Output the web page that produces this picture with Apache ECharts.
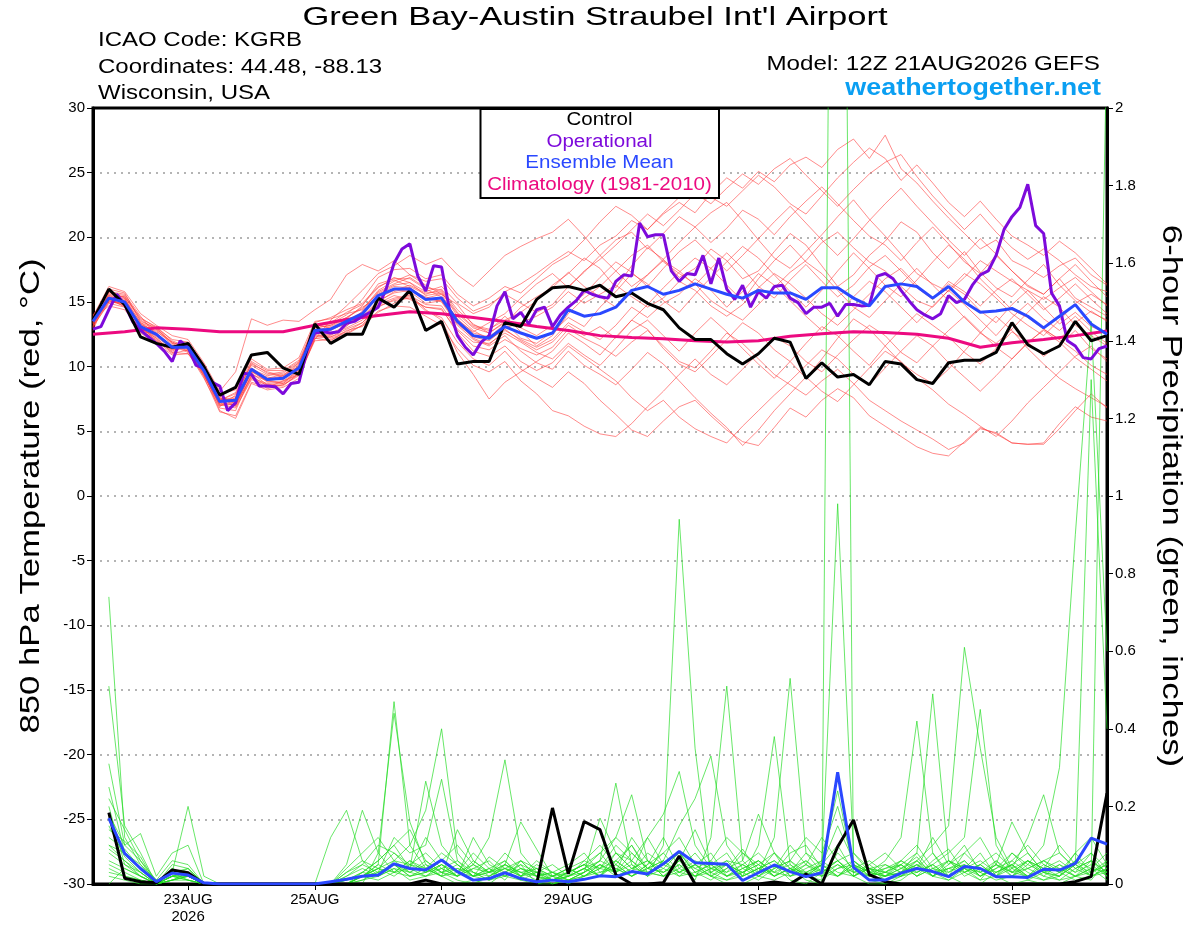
<!DOCTYPE html>
<html>
<head>
<meta charset="utf-8">
<title>GEFS KGRB 850 hPa Temperature</title>
<script src="https://cdn.jsdelivr.net/npm/echarts/dist/echarts.min.js"></script>
<style>
html, body { margin: 0; padding: 0; background: #fff; }
#main { width: 1200px; height: 927px; }
</style>
</head>
<body>
<div id="main"></div>
<script>
// x axis: hours after 12Z 21AUG2026, 6-hourly steps (0..384)
const tickIndex = [6, 14, 22, 30, 42, 50, 58];
const tickText = ['23AUG\n2026', '25AUG', '27AUG', '29AUG', '1SEP', '3SEP', '5SEP'];

// 850 hPa temperature, 6-hourly (65 values)
const control = [13.6, 16.0, 14.8, 12.3, 11.8, 11.5, 11.8, 10.0, 7.8, 8.4,
  10.9, 11.1, 9.9, 9.4, 13.3, 11.8, 12.5, 12.5, 15.3, 14.6,
  15.9, 12.8, 13.5, 10.2, 10.4, 10.4, 13.4, 13.1, 15.2, 16.1,
  16.2, 15.9, 16.3, 15.4, 15.7, 14.9, 14.4, 13.0, 12.1, 12.1,
  11.0, 10.2, 11.0, 12.2, 11.9, 9.1, 10.3, 9.2, 9.4, 8.6,
  10.4, 10.2, 9.0, 8.7, 10.3, 10.5, 10.5, 11.1, 13.4, 11.7,
  11.0, 11.6, 13.5, 12.0, 12.4];

const ensembleMean = [13.5, 15.3, 15.0, 13.1, 12.5, 11.5, 11.5, 9.7, 7.3, 7.4,
  9.8, 9.0, 9.1, 9.9, 12.8, 12.9, 13.5, 14.1, 15.5, 16.0,
  16.0, 15.2, 15.3, 13.5, 12.4, 12.2, 13.1, 12.6, 12.2, 12.6,
  14.4, 13.9, 14.1, 14.6, 15.9, 16.2, 15.6, 15.9, 16.4, 16.0,
  15.6, 15.3, 15.9, 15.7, 15.7, 15.2, 16.1, 16.1, 15.3, 14.7,
  16.2, 16.4, 16.2, 15.3, 16.2, 15.0, 14.2, 14.3, 14.5, 13.9,
  13.0, 13.9, 14.8, 13.3, 12.5];

// operational run, 3-hourly (129 values)
const operational = [12.9, 13.1, 14.4, 15.6, 14.8, 13.5, 12.8, 12.3, 11.8, 11.2,
  10.4, 12.0, 11.5, 10.1, 9.9, 8.8, 8.5, 6.6, 7.2, 9.5,
  9.4, 8.5, 8.5, 8.45, 7.9, 8.7, 8.8, 11.2, 12.6, 12.7,
  12.6, 12.7, 13.35, 13.5, 13.9, 14.2, 14.6, 16.0, 18.0, 19.1,
  19.5, 17.0, 15.85, 17.8, 17.7, 14.4, 12.4, 11.5, 10.9, 11.9,
  12.4, 14.7, 15.8, 13.7, 14.2, 13.3, 14.4, 14.6, 13.1, 14.0,
  14.6, 15.1, 15.9, 15.6, 15.4, 15.3, 16.6, 17.1, 17.0, 21.1,
  20.05, 20.2, 20.2, 17.4, 16.6, 17.2, 17.1, 18.6, 16.4, 18.4,
  16.0, 15.2, 16.3, 14.6, 15.8, 15.3, 16.2, 16.3, 15.3, 14.95,
  14.1, 14.6, 14.6, 14.9, 13.9, 14.8, 14.8, 14.7, 14.75, 17.0,
  17.2, 16.8, 15.9, 15.1, 14.4, 14.0, 13.7, 14.1, 15.5, 14.95,
  15.2, 16.3, 17.1, 17.4, 18.6, 20.6, 21.6, 22.3, 24.1, 20.9,
  20.3, 15.7, 14.7, 12.0, 11.6, 10.7, 10.6, 11.4, 11.6];

// climatology 1981-2010, 12-hourly (33 values)
const climatology = [12.5, 12.7, 13.0, 12.9, 12.7, 12.7, 12.7, 13.2, 13.65, 13.95,
  14.25, 14.1, 13.8, 13.5, 13.1, 12.8, 12.4, 12.25, 12.15, 12.0,
  11.9, 12.0, 12.35, 12.55, 12.7, 12.65, 12.5, 12.2, 11.5, 11.85,
  12.1, 12.4, 12.75];

// ensemble members, 6-hourly temperature
const members = [
  [13.2, 15.6, 15.4, 13.6, 12.9, 11.8, 11.2, 9.4, 6.9, 7.8, 10.2, 9.6, 9.3, 10.3, 13.1, 13.4, 14.2, 14.8, 16.1, 16.9, 16.5, 15.8, 16.2, 14.9, 14.1, 14.6, 15.8, 16.4, 17.2, 18.1, 18.9, 18.2, 19.4, 20.1, 21.3, 20.6, 21.8, 22.7, 21.9, 23.4, 24.6, 23.8, 25.1, 24.3, 25.6, 26.2, 25.4, 26.8, 27.6, 26.1, 27.9, 25.3, 24.2, 22.8, 21.5, 20.3, 19.1, 19.8, 18.2, 17.6, 16.9, 17.8, 18.4, 17.1, 16.3],
  [13.8, 15.1, 14.7, 12.8, 12.1, 11.1, 11.7, 9.9, 7.6, 6.9, 9.1, 8.7, 8.8, 9.6, 12.4, 12.3, 12.9, 13.4, 14.6, 15.2, 15.4, 14.3, 13.8, 11.9, 10.6, 10.1, 11.2, 9.8, 9.1, 8.4, 9.6, 8.7, 7.4, 6.3, 5.1, 4.6, 5.8, 6.9, 7.4, 6.2, 5.1, 4.2, 3.9, 5.3, 6.8, 6.1, 7.4, 8.3, 7.6, 6.2, 5.4, 4.6, 3.8, 3.3, 3.1, 4.2, 5.3, 4.8, 4.1, 4.0, 4.0, 5.2, 6.6, 7.9, 6.8],
  [13.9, 16.2, 15.8, 14.1, 13.2, 12.4, 12.1, 10.3, 8.1, 9.6, 13.7, 13.2, 13.6, 13.5, 14.4, 15.2, 17.1, 17.9, 17.4, 18.2, 17.1, 16.3, 15.6, 14.8, 13.2, 12.9, 13.6, 14.2, 15.1, 16.3, 17.2, 18.4, 17.6, 16.1, 17.8, 19.2, 18.3, 16.9, 17.6, 19.1, 18.2, 16.8, 17.4, 18.9, 20.3, 19.4, 17.8, 16.2, 17.1, 18.6, 19.7, 21.2, 20.4, 18.8, 17.6, 18.9, 17.3, 16.1, 15.4, 16.7, 17.9, 16.3, 15.1, 14.2, 13.6],
  [13.1, 14.9, 14.6, 13.3, 12.7, 11.9, 11.4, 9.2, 6.5, 6.2, 8.8, 8.4, 8.9, 9.4, 12.1, 13.6, 14.7, 15.9, 17.2, 17.8, 18.6, 17.9, 18.4, 17.1, 16.2, 17.4, 18.6, 19.3, 19.9, 20.4, 21.4, 20.1, 18.6, 17.4, 16.2, 17.1, 18.3, 19.6, 20.8, 21.9, 22.7, 21.3, 19.8, 18.4, 17.6, 18.9, 20.2, 21.6, 22.9, 21.4, 20.1, 18.7, 17.2, 16.4, 15.8, 16.9, 18.2, 17.4, 16.6, 15.9, 15.2, 16.1, 16.9, 15.8, 14.7],
  [13.4, 15.0, 14.9, 12.6, 11.8, 10.9, 11.0, 9.6, 7.8, 7.1, 9.2, 8.3, 8.6, 9.3, 12.2, 12.0, 12.8, 13.1, 14.2, 14.9, 15.6, 14.4, 13.6, 11.1, 9.4, 7.5, 8.8, 9.6, 10.4, 11.2, 12.6, 11.8, 10.9, 12.3, 13.6, 12.9, 11.4, 10.2, 9.6, 10.8, 12.1, 13.4, 12.6, 11.3, 10.4, 9.1, 10.6, 12.2, 13.7, 12.9, 11.6, 10.3, 9.4, 8.7, 9.8, 11.2, 12.6, 13.9, 12.8, 11.4, 10.2, 9.1, 8.3, 7.6, 6.9],
  [13.6, 15.4, 15.2, 13.4, 12.6, 11.3, 11.9, 10.2, 7.2, 7.0, 9.6, 9.2, 9.0, 10.1, 12.9, 12.6, 13.1, 14.3, 15.8, 16.4, 16.9, 16.1, 15.9, 14.2, 13.1, 12.8, 13.9, 12.7, 11.6, 12.4, 14.1, 15.3, 16.2, 17.4, 18.6, 19.4, 18.1, 17.2, 16.4, 15.1, 14.3, 13.6, 14.8, 16.1, 17.3, 18.2, 19.6, 20.4, 19.2, 18.1, 17.4, 16.2, 15.1, 14.6, 15.9, 17.2, 16.4, 15.3, 14.1, 13.2, 12.4, 13.6, 14.9, 15.6, 14.8],
  [13.0, 15.8, 15.6, 13.9, 12.4, 11.6, 11.1, 9.1, 6.8, 6.6, 9.4, 8.9, 8.7, 9.8, 13.0, 13.2, 13.8, 14.6, 15.3, 15.9, 16.3, 15.7, 15.8, 13.9, 12.8, 12.1, 12.9, 12.0, 11.3, 11.9, 13.2, 12.4, 13.1, 12.2, 13.6, 14.8, 16.1, 17.3, 18.4, 17.6, 16.3, 15.1, 16.8, 18.2, 19.4, 18.1, 17.2, 15.9, 14.6, 13.8, 15.1, 16.4, 17.6, 16.3, 15.1, 13.8, 12.6, 11.8, 12.9, 14.2, 15.4, 14.6, 13.2, 12.4, 11.6],
  [13.3, 15.2, 14.8, 13.0, 12.3, 11.4, 11.6, 9.8, 7.4, 7.9, 10.1, 9.4, 9.6, 10.4, 12.6, 12.4, 13.2, 13.9, 15.1, 15.7, 15.9, 15.4, 15.0, 13.2, 12.1, 11.6, 12.4, 11.2, 10.3, 9.8, 11.2, 10.1, 9.4, 8.6, 9.8, 11.1, 10.2, 8.9, 7.6, 6.4, 5.3, 3.9, 5.1, 6.6, 7.9, 9.2, 8.1, 7.3, 8.6, 9.9, 11.2, 10.4, 9.1, 8.2, 7.1, 6.3, 5.4, 4.6, 5.8, 7.2, 8.4, 9.6, 10.8, 11.6, 10.4],
  [14.0, 15.5, 15.1, 13.2, 12.8, 11.7, 11.3, 9.5, 7.0, 7.3, 9.9, 9.1, 9.4, 10.0, 13.3, 13.0, 13.6, 14.2, 15.6, 16.2, 16.1, 15.3, 15.6, 13.6, 12.7, 13.4, 14.1, 15.3, 16.4, 17.2, 16.1, 17.4, 18.3, 19.4, 20.6, 21.8, 20.9, 22.1, 23.4, 22.6, 23.8, 24.9, 24.1, 25.3, 26.1, 24.8, 23.6, 22.4, 23.7, 24.9, 25.8, 26.4, 24.7, 23.2, 21.9, 20.6, 21.8, 20.4, 19.2, 18.3, 19.1, 18.2, 17.1, 16.2, 15.8],
  [13.5, 15.3, 15.3, 13.0, 12.2, 11.2, 11.8, 9.9, 7.5, 7.5, 9.7, 8.8, 8.9, 9.7, 12.7, 12.8, 13.4, 14.0, 15.4, 16.0, 15.8, 14.9, 15.1, 13.3, 12.3, 12.0, 13.0, 13.4, 13.9, 14.6, 15.8, 14.9, 15.6, 16.3, 15.4, 14.6, 15.3, 16.6, 15.9, 14.7, 13.9, 14.8, 16.1, 17.2, 16.4, 15.3, 14.1, 13.2, 14.4, 15.6, 16.8, 17.6, 16.3, 15.2, 16.4, 15.6, 14.3, 13.4, 14.8, 15.9, 14.6, 13.3, 14.2, 13.1, 12.6],
  [12.8, 15.7, 15.5, 13.7, 13.1, 12.0, 11.5, 9.3, 7.1, 7.6, 10.3, 9.5, 9.2, 10.2, 13.4, 13.8, 14.4, 14.9, 16.2, 16.7, 16.2, 15.6, 16.0, 14.4, 13.3, 12.6, 13.4, 12.2, 11.8, 12.7, 13.8, 13.1, 14.6, 15.8, 17.2, 16.4, 15.1, 14.2, 15.6, 16.9, 18.1, 19.3, 18.4, 17.1, 15.8, 14.6, 15.9, 17.4, 18.8, 17.6, 16.3, 15.4, 16.7, 18.1, 19.4, 18.3, 16.8, 15.6, 14.4, 13.8, 12.9, 12.1, 13.4, 14.3, 13.5],
  [13.7, 14.7, 14.4, 12.9, 12.4, 11.6, 11.2, 9.6, 7.7, 7.2, 9.5, 8.6, 8.5, 9.5, 12.3, 12.5, 13.0, 13.6, 14.9, 15.5, 15.2, 14.6, 14.4, 12.8, 11.6, 11.3, 12.1, 11.4, 10.9, 11.5, 12.9, 12.2, 11.6, 10.8, 11.9, 12.8, 11.6, 10.4, 9.9, 11.2, 12.6, 11.8, 10.6, 9.4, 8.6, 7.8, 8.9, 9.8, 8.7, 7.4, 6.6, 5.8, 5.1, 4.4, 3.6, 4.1, 5.2, 4.9, 4.1, 4.0, 4.1, 5.6, 6.9, 6.1, 5.8],
  [13.4, 16.0, 15.7, 13.5, 13.0, 12.1, 11.9, 10.1, 7.9, 8.2, 10.6, 9.8, 9.9, 10.7, 13.5, 13.7, 14.1, 14.4, 15.9, 16.6, 17.1, 16.6, 16.8, 15.3, 14.3, 14.8, 15.6, 14.9, 14.2, 14.8, 16.2, 17.3, 18.6, 19.8, 20.4, 19.1, 20.3, 21.6, 20.8, 19.6, 20.7, 22.1, 21.4, 20.2, 21.6, 22.8, 23.9, 22.6, 21.3, 20.1, 19.4, 18.2, 19.6, 20.8, 19.5, 18.1, 17.2, 18.6, 17.4, 16.2, 15.6, 16.8, 15.3, 14.6, 13.9],
  [13.2, 15.1, 14.9, 13.1, 12.0, 11.0, 11.3, 9.7, 7.3, 7.7, 9.9, 9.0, 9.3, 9.9, 12.5, 12.2, 12.6, 13.2, 14.8, 15.3, 15.5, 14.8, 14.7, 12.9, 11.9, 11.8, 12.6, 11.9, 11.1, 10.6, 11.8, 10.9, 10.1, 11.4, 12.8, 13.6, 12.4, 11.2, 12.6, 13.8, 12.7, 11.4, 10.2, 9.1, 10.4, 11.8, 13.1, 12.4, 11.2, 10.1, 11.6, 12.9, 14.1, 13.2, 12.3, 11.1, 10.2, 11.4, 12.7, 11.9, 10.8, 11.7, 12.8, 11.4, 10.6],
  [13.6, 15.2, 14.7, 12.7, 12.6, 11.5, 11.6, 9.4, 7.0, 7.1, 9.6, 8.9, 9.1, 10.0, 12.8, 13.1, 13.7, 14.7, 16.4, 16.8, 16.8, 16.0, 15.4, 13.7, 12.6, 12.3, 13.3, 14.6, 15.4, 16.1, 17.3, 16.2, 15.4, 14.6, 15.8, 17.1, 18.2, 17.4, 16.3, 17.6, 18.8, 17.6, 16.2, 15.3, 16.7, 17.9, 16.6, 15.4, 16.3, 17.7, 18.6, 17.4, 16.1, 15.2, 16.6, 15.8, 14.7, 15.9, 16.8, 15.6, 14.4, 15.3, 16.4, 15.2, 14.1],
  [13.5, 15.4, 15.0, 13.3, 12.5, 11.4, 11.7, 9.8, 7.6, 7.0, 9.3, 8.5, 8.6, 9.4, 12.0, 12.1, 12.5, 13.2, 14.3, 14.7, 14.6, 13.9, 13.2, 11.4, 10.1, 9.6, 10.4, 8.9, 7.9, 6.6, 6.2, 5.4, 4.8, 4.6, 5.6, 6.9, 8.1, 9.4, 10.6, 9.4, 8.6, 9.8, 11.1, 12.3, 11.6, 10.4, 9.6, 10.9, 12.1, 13.2, 12.4, 11.1, 10.3, 11.6, 12.8, 13.9, 12.7, 11.5, 10.6, 11.8, 12.9, 12.1, 11.2, 10.1, 9.4],
  [13.9, 15.8, 15.3, 13.4, 12.9, 11.9, 11.4, 9.9, 7.4, 8.0, 10.4, 9.7, 9.7, 10.5, 13.2, 13.3, 14.0, 15.2, 16.9, 17.5, 17.6, 16.8, 17.1, 15.6, 14.7, 15.3, 16.2, 15.7, 16.8, 17.9, 18.6, 19.8, 21.2, 22.4, 21.7, 20.6, 21.9, 23.1, 24.2, 23.1, 22.4, 23.6, 24.8, 23.9, 22.6, 21.8, 23.2, 24.6, 25.8, 26.9, 26.1, 24.4, 25.6, 24.2, 22.7, 21.6, 22.8, 21.4, 20.1, 19.4, 18.6, 19.7, 18.8, 17.6, 16.4],
  [13.1, 15.0, 15.0, 12.9, 12.2, 11.1, 11.0, 9.3, 7.1, 6.8, 9.0, 8.6, 8.7, 9.5, 12.6, 12.9, 13.3, 13.8, 15.0, 15.8, 16.1, 15.2, 15.1, 13.4, 12.2, 11.7, 12.8, 12.1, 11.5, 12.1, 13.4, 12.7, 12.1, 13.2, 14.6, 13.8, 14.9, 15.6, 16.8, 15.9, 14.6, 15.8, 17.2, 16.3, 15.1, 13.9, 12.8, 14.1, 15.4, 16.6, 15.8, 14.6, 13.4, 14.7, 15.9, 14.8, 13.6, 12.4, 13.8, 14.9, 13.7, 12.8, 13.9, 12.7, 11.8],
  [13.7, 15.3, 14.6, 12.8, 12.0, 11.3, 11.5, 9.5, 6.6, 6.0, 8.7, 8.2, 8.4, 9.1, 12.2, 12.3, 12.7, 13.4, 14.7, 15.1, 15.3, 14.6, 14.5, 12.6, 11.2, 10.8, 11.6, 10.4, 9.7, 10.3, 11.6, 10.7, 9.8, 8.9, 7.6, 6.6, 7.4, 6.1, 5.2, 4.6, 4.1, 5.4, 6.6, 7.8, 8.9, 10.1, 11.3, 10.6, 9.4, 8.6, 9.9, 11.2, 12.4, 11.6, 10.3, 9.2, 8.1, 9.3, 10.6, 11.9, 12.8, 11.9, 10.7, 9.8, 8.9],
  [13.3, 15.5, 15.4, 13.8, 13.0, 11.8, 11.6, 9.7, 7.5, 7.4, 9.8, 9.3, 9.5, 10.3, 13.0, 13.2, 13.8, 14.5, 15.7, 16.3, 16.5, 15.5, 15.7, 14.1, 13.0, 12.6, 13.5, 13.0, 12.4, 13.2, 14.7, 15.6, 16.9, 18.1, 17.3, 16.2, 17.6, 18.9, 19.8, 18.6, 17.4, 18.6, 19.9, 21.2, 22.4, 21.1, 19.8, 18.6, 19.9, 21.3, 22.6, 23.8, 22.4, 21.1, 19.8, 18.6, 19.9, 18.7, 17.4, 16.3, 15.6, 16.8, 17.9, 16.6, 15.4]
];

// 6-hour precipitation (inches), periods ending at hour 6..384 (64 values)
const precipControl = [0.184, 0.015, 0.006, 0.003, 0.036, 0.029, 0, 0, 0, 0,
  0, 0, 0, 0, 0, 0, 0, 0, 0, 0,
  0.01, 0, 0, 0, 0, 0, 0, 0, 0.196, 0.026,
  0.161, 0.14, 0.024, 0, 0, 0.003, 0.072, 0, 0, 0,
  0, 0, 0.005, 0, 0.026, 0, 0.096, 0.165, 0.024, 0.006,
  0, 0, 0, 0, 0, 0, 0, 0, 0, 0,
  0, 0.006, 0.019, 0.234];

const precipMean = [0.17, 0.079, 0.04, 0.006, 0.028, 0.023, 0.003, 0, 0, 0,
  0, 0, 0, 0, 0.006, 0.012, 0.02, 0.023, 0.052, 0.04,
  0.036, 0.062, 0.032, 0.01, 0.014, 0.029, 0.014, 0.006, 0.01, 0.006,
  0.012, 0.021, 0.019, 0.032, 0.026, 0.052, 0.084, 0.055, 0.053, 0.051,
  0.009, 0.029, 0.049, 0.032, 0.019, 0.029, 0.288, 0.043, 0.01, 0.01,
  0.028, 0.04, 0.032, 0.019, 0.045, 0.04, 0.019, 0.019, 0.017, 0.038,
  0.036, 0.053, 0.118, 0.103];

const precipMembers = [
  [0.74, 0.12, 0.05, 0, 0.02, 0.03, 0, 0, 0, 0, 0, 0, 0, 0, 0, 0, 0.02, 0.05, 0.47, 0.1, 0.04, 0.02, 0, 0.01, 0, 0.03, 0.05, 0, 0, 0.01, 0.03, 0.06, 0.26, 0.05, 0.02, 0.1, 0.94, 0.35, 0.02, 0, 0, 0.02, 0.05, 0.01, 0, 0.03, 0.06, 0.02, 0, 0, 0.01, 0.04, 0.08, 0.02, 0, 0, 0.03, 0.05, 0.01, 0, 0, 0.02, 0.04, 0.01],
  [0.51, 0.15, 0.08, 0, 0.04, 0.02, 0, 0, 0, 0, 0, 0, 0, 0, 0, 0, 0, 0.08, 0.44, 0.16, 0.05, 0.03, 0.01, 0, 0.02, 0.04, 0.02, 0, 0.01, 0.03, 0.05, 0.02, 0.08, 0.04, 0.03, 0.02, 0.05, 0.01, 0.12, 0.51, 0.06, 0.02, 0.01, 0.03, 0.05, 0.02, 0.08, 0.04, 0.01, 0, 0.02, 0.06, 0.03, 0.01, 0.04, 0.08, 0.02, 0, 0.01, 0.03, 0.05, 0.02, 0.01, 0.06],
  [0.31, 0.1, 0.13, 0.02, 0.08, 0.1, 0, 0, 0, 0, 0, 0, 0, 0, 0, 0.04, 0.08, 0.12, 0.06, 0.1, 0.19, 0.4, 0.08, 0.03, 0.01, 0.05, 0.03, 0.02, 0, 0.02, 0.04, 0.08, 0.03, 0.12, 0.06, 0.02, 0.04, 0.08, 0.03, 0.01, 0.02, 0.1, 0.38, 0.05, 0.02, 0.01, 0.04, 0.06, 0.02, 0.03, 0.05, 0.02, 0.06, 0.09, 0.03, 0.01, 0.02, 0.05, 0.08, 0.03, 0.01, 0.02, 0.04, 0.03],
  [0.25, 0.08, 0.04, 0, 0.03, 0.2, 0.02, 0, 0, 0, 0, 0, 0, 0, 0, 0, 0.03, 0.06, 0.1, 0.04, 0.265, 0.1, 0.05, 0.02, 0.04, 0.01, 0.06, 0.04, 0.02, 0, 0.02, 0.04, 0.06, 0.03, 0.12, 0.05, 0.08, 0.03, 0.01, 0.04, 0.09, 0.03, 0.12, 0.53, 0.08, 0.03, 0.02, 0.05, 0.01, 0.02, 0.04, 0.07, 0.02, 0.05, 0.1, 0.03, 0.01, 0.02, 0.06, 0.04, 0.02, 0.08, 0.03, 0.05],
  [0.22, 0.14, 0.06, 0.01, 0.02, 0.04, 0, 0, 0, 0, 0, 0, 0, 0, 0, 0.02, 0.05, 0.03, 0.12, 0.08, 0.1, 0.27, 0.06, 0.02, 0.01, 0.03, 0.01, 0, 0.02, 0.04, 0.06, 0.1, 0.05, 0.02, 0.04, 0.08, 0.03, 0.05, 0.02, 0.01, 0.03, 0.05, 0.02, 0.04, 0.01, 0, 5.0, 0.02, 0.04, 0.01, 0.02, 0.03, 0.05, 0.02, 0.04, 0.01, 0.06, 0.03, 0.02, 0.01, 0.03, 0.01, 0.02, 0.04],
  [0.2, 0.05, 0.02, 0, 0.01, 0.03, 0, 0, 0, 0, 0, 0, 0, 0, 0, 0, 0.02, 0.04, 0.08, 0.05, 0.03, 0.06, 0.1, 0.05, 0.12, 0.32, 0.08, 0.03, 0.01, 0.02, 0.04, 0.02, 0.05, 0.1, 0.03, 0.02, 0.06, 0.04, 0.02, 0.05, 0.03, 0.01, 0.04, 0.06, 0.02, 0.05, 0.98, 0.08, 0.03, 0.02, 0.06, 0.04, 0.02, 0.01, 0.03, 0.05, 0.02, 0.08, 0.04, 0.02, 0.01, 0.04, 0.06, 0.02],
  [0.18, 0.1, 0.06, 0, 0.05, 0.04, 0, 0, 0, 0, 0, 0, 0, 0, 0.12, 0.19, 0.06, 0.02, 0.04, 0.01, 0.02, 0.05, 0.03, 0.08, 0.04, 0.02, 0.01, 0.03, 0, 0.01, 0.03, 0.17, 0.08, 0.04, 0.06, 0.02, 0.03, 0.05, 0.08, 0.02, 0.04, 0.06, 0.03, 0.08, 0.1, 0.04, 0.02, 0.05, 0.03, 0.06, 0.12, 0.42, 0.08, 0.03, 0.05, 0.02, 0.04, 0.06, 0.03, 0.01, 0.02, 0.05, 0.08, 0.04],
  [0.15, 0.07, 0.03, 0, 0.02, 0.02, 0, 0, 0, 0, 0, 0, 0, 0, 0, 0.05, 0.19, 0.08, 0.03, 0.06, 0.04, 0.02, 0.14, 0.06, 0.03, 0.05, 0.16, 0.09, 0.02, 0.01, 0.02, 0.05, 0.03, 0.08, 0.04, 0.06, 0.02, 0.03, 0.05, 0.08, 0.02, 0.04, 0.06, 0.03, 0.08, 0.05, 0.1, 0.03, 0.02, 0.05, 0.03, 0.08, 0.49, 0.06, 0.02, 0.04, 0.03, 0.05, 0.02, 0.06, 0.04, 0.02, 0.03, 0.05],
  [0.12, 0.09, 0.04, 0, 0.03, 0.01, 0, 0, 0, 0, 0, 0, 0, 0, 0, 0.03, 0.06, 0.04, 0.02, 0.05, 0.08, 0.04, 0.02, 0.12, 0.05, 0.03, 0.06, 0.02, 0.01, 0.03, 0.05, 0.08, 0.12, 0.23, 0.06, 0.04, 0.02, 0.05, 0.03, 0.06, 0.05, 0.03, 0.08, 0.02, 0.04, 0.06, 0.03, 0.02, 0.05, 0.08, 0.04, 0.06, 0.1, 0.15, 0.61, 0.35, 0.12, 0.04, 0.02, 0.05, 0.03, 0.06, 0.02, 0.04],
  [0.1, 0.06, 0.02, 0, 0.02, 0.03, 0, 0, 0, 0, 0, 0, 0, 0, 0, 0.01, 0.03, 0.02, 0.05, 0.03, 0.06, 0.03, 0.04, 0.02, 0.07, 0.04, 0.02, 0.06, 0.03, 0.05, 0.08, 0.03, 0.04, 0.02, 0.05, 0.12, 0.04, 0.02, 0.06, 0.03, 0.08, 0.05, 0.02, 0.04, 0.06, 0.03, 0.05, 0.02, 0.04, 0.03, 0.06, 0.03, 0.05, 0.08, 0.12, 0.45, 0.1, 0.03, 0.06, 0.02, 0.05, 0.03, 0.08, 0.02],
  [0.08, 0.05, 0.03, 0, 0.04, 0.02, 0, 0, 0, 0, 0, 0, 0, 0, 0, 0, 0.02, 0.04, 0.03, 0.02, 0.03, 0.05, 0.02, 0.04, 0.06, 0.02, 0.04, 0.03, 0.01, 0.02, 0.04, 0.02, 0.06, 0.03, 0.08, 0.05, 0.03, 0.06, 0.04, 0.02, 0.03, 0.05, 0.08, 0.04, 0.02, 0.06, 0.24, 0.04, 0.02, 0.03, 0.05, 0.02, 0.04, 0.06, 0.03, 0.05, 0.08, 0.04, 0.12, 0.23, 0.08, 0.04, 0.02, 0.03],
  [0.06, 0.04, 0.02, 0, 0.01, 0.02, 0, 0, 0, 0, 0, 0, 0, 0, 0, 0, 0.01, 0.03, 0.05, 0.02, 0.04, 0.02, 0.03, 0.05, 0.02, 0.04, 0.03, 0.01, 0.02, 0.04, 0.02, 0.04, 0.03, 0.05, 0.02, 0.06, 0.03, 0.02, 0.04, 0.05, 0.02, 0.04, 0.06, 0.02, 0.03, 0.05, 0.02, 0.04, 0.06, 0.03, 0.02, 0.05, 0.03, 0.04, 0.06, 0.02, 0.04, 0.08, 0.05, 0.1, 0.3, 0.9, 1.45, 0.6],
  [0.05, 0.03, 0.01, 0, 0.02, 0.01, 0, 0, 0, 0, 0, 0, 0, 0, 0, 0, 0.02, 0.01, 0.03, 0.04, 0.02, 0.03, 0.05, 0.02, 0.03, 0.06, 0.02, 0.04, 0.01, 0.02, 0.03, 0.05, 0.02, 0.04, 0.06, 0.03, 0.05, 0.02, 0.04, 0.03, 0.05, 0.02, 0.04, 0.06, 0.03, 0.02, 0.05, 0.03, 0.04, 0.02, 0.03, 0.06, 0.02, 0.04, 0.05, 0.03, 0.06, 0.02, 0.05, 0.03, 0.02, 0.05, 1.3, 0.4],
  [0.04, 0.02, 0.01, 0, 0.01, 0.02, 0, 0, 0, 0, 0, 0, 0, 0, 0, 0, 0.01, 0.02, 0.04, 0.03, 0.05, 0.02, 0.04, 0.03, 0.01, 0.02, 0.04, 0.02, 0.03, 0.01, 0.02, 0.03, 0.05, 0.02, 0.04, 0.03, 0.06, 0.02, 0.03, 0.05, 0.03, 0.06, 0.02, 0.04, 0.03, 0.05, 0.02, 0.06, 0.03, 0.04, 0.05, 0.02, 0.04, 0.03, 0.06, 0.02, 0.05, 0.03, 0.04, 0.06, 0.03, 0.05, 0.02, 2.2],
  [0.03, 0.02, 0.01, 0, 0.02, 0.01, 0, 0, 0, 0, 0, 0, 0, 0, 0, 0, 0.02, 0.05, 0.03, 0.06, 0.03, 0.05, 0.02, 0.04, 0.03, 0.05, 0.02, 0.03, 0.05, 0.02, 0.04, 0.06, 0.12, 0.08, 0.04, 0.06, 0.15, 0.22, 0.33, 0.1, 0.04, 0.02, 0.05, 0.03, 0.06, 0.02, 0.04, 0.05, 0.03, 0.02, 0.04, 0.03, 0.05, 0.02, 0.04, 0.06, 0.03, 0.05, 0.02, 0.04, 0.06, 0.03, 0.05, 0.02],
  [0.02, 0.01, 0, 0, 0.01, 0.02, 0, 0, 0, 0, 0, 0, 0, 0, 0, 0.02, 0.04, 0.02, 0.06, 0.03, 0.02, 0.04, 0.06, 0.03, 0.02, 0.05, 0.03, 0.04, 0.02, 0.03, 0.05, 0.04, 0.08, 0.06, 0.12, 0.18, 0.29, 0.1, 0.04, 0.06, 0.02, 0.04, 0.03, 0.05, 0.02, 0.04, 0.06, 0.03, 0.05, 0.02, 0.03, 0.05, 0.02, 0.04, 0.03, 0.05, 0.02, 0.04, 0.06, 0.03, 0.04, 0.02, 0.06, 0.03],
  [0.1, 0.08, 0.05, 0.01, 0.06, 0.05, 0, 0, 0, 0, 0, 0, 0, 0, 0, 0.01, 0.03, 0.06, 0.1, 0.14, 0.06, 0.03, 0.02, 0.05, 0.03, 0.08, 0.04, 0.02, 0.03, 0.01, 0.03, 0.06, 0.04, 0.02, 0.05, 0.08, 0.12, 0.05, 0.02, 0.04, 0.06, 0.18, 0.08, 0.04, 0.02, 0.05, 0.15, 0.06, 0.03, 0.02, 0.05, 0.08, 0.03, 0.06, 0.04, 0.02, 0.05, 0.16, 0.08, 0.03, 0.02, 0.06, 0.04, 0.08],
  [0.14, 0.11, 0.07, 0, 0.03, 0.04, 0, 0, 0, 0, 0, 0, 0, 0, 0, 0.03, 0.05, 0.1, 0.08, 0.04, 0.12, 0.06, 0.03, 0.02, 0.04, 0.06, 0.02, 0.05, 0.03, 0.02, 0.06, 0.04, 0.1, 0.06, 0.03, 0.05, 0.08, 0.04, 0.06, 0.12, 0.08, 0.04, 0.02, 0.06, 0.12, 0.08, 0.2, 0.05, 0.02, 0.04, 0.06, 0.1, 0.04, 0.02, 0.08, 0.12, 0.05, 0.03, 0.06, 0.04, 0.1, 0.05, 0.03, 0.06],
  [0.09, 0.06, 0.03, 0, 0.02, 0.02, 0, 0, 0, 0, 0, 0, 0, 0, 0, 0, 0.02, 0.04, 0.06, 0.05, 0.04, 0.08, 0.05, 0.02, 0.03, 0.04, 0.06, 0.02, 0.01, 0.03, 0.05, 0.02, 0.06, 0.1, 0.04, 0.03, 0.06, 0.14, 0.05, 0.02, 0.05, 0.08, 0.04, 0.1, 0.05, 0.12, 0.06, 0.08, 0.04, 0.03, 0.02, 0.04, 0.12, 0.05, 0.08, 0.04, 0.02, 0.06, 0.1, 0.05, 0.03, 0.08, 0.12, 0.05],
  [0, 0.04, 0.02, 0, 0.01, 0.01, 0, 0, 0, 0, 0, 0, 0, 0, 0, 0.01, 0.02, 0.03, 0.05, 0.02, 0.03, 0.04, 0.02, 0.06, 0.03, 0.02, 0.05, 0.03, 0.02, 0.04, 0.02, 0.05, 0.03, 0.06, 0.02, 0.04, 0.08, 0.03, 0.05, 0.02, 0.04, 0.06, 0.03, 0.02, 0.05, 0.03, 0.06, 0.02, 0.04, 0.05, 0.03, 0.05, 0.02, 0.06, 0.04, 0.03, 0.05, 0.02, 0.04, 0.06, 0.08, 0.04, 0.06, 0.03]
];

const FONT = '"Liberation Sans", Arial, sans-serif';
const C_OPER = '#7d0adb';
const C_MEAN = '#2a48ff';
const C_CLIM = '#ec0a80';

let xLabels = [];
for (let i = 0; i <= 64; i++) xLabels.push('');
tickIndex.forEach((idx, k) => { xLabels[idx] = tickText[k]; });
const showTick = (index, value) => value !== '';

let series = [];

members.forEach(m => {
    series.push({
        type: 'line', xAxisIndex: 0, yAxisIndex: 0, symbol: 'none', silent: true,
        lineStyle: { color: '#ff3c3c', width: 0.8, opacity: 0.75 },
        data: m.map((v, i) => [i * 6, v])
    });
});

precipMembers.forEach(m => {
    series.push({
        type: 'line', xAxisIndex: 0, yAxisIndex: 1, symbol: 'none', silent: true,
        lineStyle: { color: '#1fdc1f', width: 0.8, opacity: 0.85 },
        data: m.map((v, i) => [(i + 1) * 6, v])
    });
});

series.push({
    name: 'Climatology (1981-2010)', type: 'line', xAxisIndex: 0, yAxisIndex: 0,
    symbol: 'none', lineStyle: { color: C_CLIM, width: 3 },
    data: climatology.map((v, i) => [i * 12, v])
}, {
    name: 'Operational', type: 'line', xAxisIndex: 0, yAxisIndex: 0,
    symbol: 'none', lineStyle: { color: C_OPER, width: 3 },
    data: operational.map((v, i) => [i * 3, v])
}, {
    name: 'Control', type: 'line', xAxisIndex: 0, yAxisIndex: 0,
    symbol: 'none', lineStyle: { color: '#000', width: 3 },
    data: control.map((v, i) => [i * 6, v])
}, {
    name: 'Ensemble Mean', type: 'line', xAxisIndex: 0, yAxisIndex: 0,
    symbol: 'none', lineStyle: { color: C_MEAN, width: 3 },
    data: ensembleMean.map((v, i) => [i * 6, v])
}, {
    name: 'Control precip', type: 'line', xAxisIndex: 0, yAxisIndex: 1,
    symbol: 'none', lineStyle: { color: '#000', width: 3 },
    data: precipControl.map((v, i) => [(i + 1) * 6, v])
}, {
    name: 'Mean precip', type: 'line', xAxisIndex: 0, yAxisIndex: 1,
    symbol: 'none', lineStyle: { color: C_MEAN, width: 3 },
    data: precipMean.map((v, i) => [(i + 1) * 6, v])
});

// plain text helper for the graphic layer
function label(text, x, y, opts) {
    opts = opts || {};
    return {
        type: 'text', x: x, y: y, z: 101,
        rotation: opts.rotation || 0,
        scaleX: opts.scaleX || 1,
        style: {
            text: text,
            font: (opts.weight || 'normal') + ' ' + opts.size + 'px ' + FONT,
            fill: opts.color || '#000',
            textAlign: opts.align || 'left', align: opts.align || 'left',
            textVerticalAlign: 'middle', verticalAlign: 'middle'
        }
    };
}

let myChart = echarts.init(document.getElementById('main'), null, { renderer: 'canvas' });

myChart.setOption({
    backgroundColor: '#fff',
    animation: false,
    grid: {
        left: 93, right: 93, top: 108, bottom: 43,
        show: true, borderColor: '#000', borderWidth: 3
    },
    xAxis: [{
        type: 'value', min: 0, max: 384, show: false
    }, {
        type: 'category', data: xLabels, boundaryGap: false, position: 'bottom',
        axisLine: { onZero: false, lineStyle: { color: '#000', width: 3 } },
        axisTick: { interval: showTick, length: 6, lineStyle: { color: '#000', width: 1 } },
        axisLabel: { interval: showTick, color: '#000', fontSize: 15, fontFamily: FONT, margin: 7, lineHeight: 17 },
        splitLine: { show: false }
    }],
    yAxis: [{
        type: 'value', min: -30, max: 30, interval: 5, position: 'left',
        axisLine: { show: true, onZero: false, lineStyle: { color: '#000', width: 3 } },
        axisTick: { show: true, length: 6, lineStyle: { color: '#000', width: 1 } },
        axisLabel: { color: '#000', fontSize: 15, fontFamily: FONT, margin: 8 },
        splitLine: {
            show: true, showMinLine: false, showMaxLine: false,
            lineStyle: { color: '#b4b4b4', width: 2, type: [2, 5] }
        }
    }, {
        type: 'value', min: 0, max: 2, interval: 0.2, position: 'right',
        axisLine: { show: true, onZero: false, lineStyle: { color: '#000', width: 3 } },
        axisTick: { show: true, length: 6, lineStyle: { color: '#000', width: 1 } },
        axisLabel: { color: '#000', fontSize: 15, fontFamily: FONT, margin: 8 },
        splitLine: { show: false }
    }],
    graphic: [
        label("Green Bay-Austin Straubel Int'l Airport", 595, 18, { size: 26, align: 'center', scaleX: 1.33 }),
        label('ICAO Code: KGRB', 98, 40, { size: 20, scaleX: 1.2 }),
        label('Coordinates: 44.48, -88.13', 98, 67, { size: 20, scaleX: 1.2 }),
        label('Wisconsin, USA', 98, 93, { size: 20, scaleX: 1.2 }),
        label('Model: 12Z 21AUG2026 GEFS', 1100, 64, { size: 20, align: 'right', scaleX: 1.21 }),
        label('weathertogether.net', 1101, 89, { size: 23, align: 'right', scaleX: 1.17, weight: 'bold', color: '#0a9ff2' }),
        label('850 hPa Temperature (red, \u00b0C)', 31, 496, { size: 28, align: 'center', scaleX: 1.24, rotation: Math.PI / 2 }),
        label('6-hour Precipitation (green, inches)', 1171, 496, { size: 28, align: 'center', scaleX: 1.24, rotation: -Math.PI / 2 }),
        {
            type: 'rect', z: 100,
            shape: { x: 480.5, y: 109, width: 238.5, height: 89 },
            style: { fill: '#fff', stroke: '#000', lineWidth: 2 }
        },
        label('Control', 599.5, 120, { size: 18, align: 'center', scaleX: 1.14 }),
        label('Operational', 599.5, 142, { size: 18, align: 'center', scaleX: 1.14, color: C_OPER }),
        label('Ensemble Mean', 599.5, 163, { size: 18, align: 'center', scaleX: 1.14, color: C_MEAN }),
        label('Climatology (1981-2010)', 599.5, 185, { size: 18, align: 'center', scaleX: 1.14, color: C_CLIM })
    ],
    series: series
});
</script>
</body>
</html>
